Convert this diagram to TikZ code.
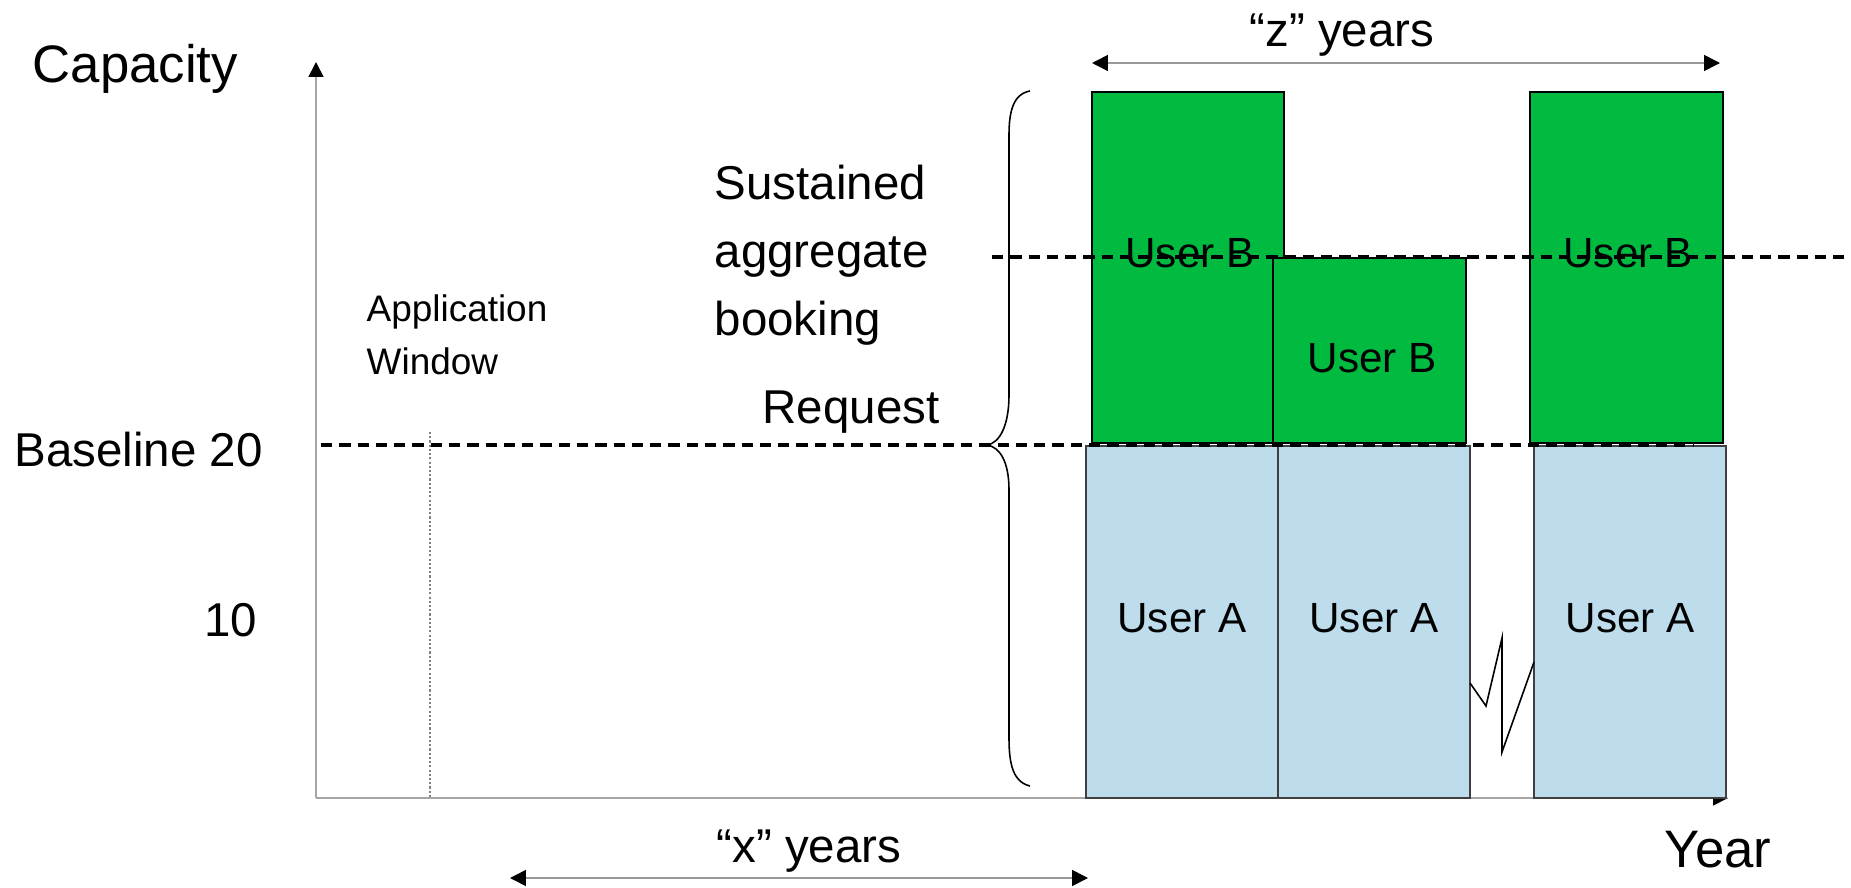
\documentclass[tikz,border=0pt]{standalone}
\usepackage{fontspec}
\setmainfont{Liberation Sans}
\usepackage{tikz}
\usetikzlibrary{arrows,arrows.meta}
\usetikzlibrary{calc}
\definecolor{bookgreen}{RGB}{0,187,64}
\definecolor{bookblue}{RGB}{189,221,237}

\begin{document}
\begin{tikzpicture}[x=0.01cm,y=-0.01cm,
    axis/.style={draw=gray!70,line width=0.45pt,-{Triangle[length=4.2pt,width=4.2pt,color=black]}},
    span/.style={draw=gray!80,line width=0.45pt,{Triangle[length=4.5pt,width=4.5pt,color=black]}-{Triangle[length=4.5pt,width=4.5pt,color=black]}},
    bookdash/.style={dash pattern=on 3.2pt off 2pt,line width=1pt},
    userA/.style={draw=black!75,fill=bookblue,line width=0.45pt},
    userB/.style={draw=black,fill=bookgreen,line width=0.45pt},
    bigtxt/.style={font=\fontsize{15}{18}\selectfont,inner sep=0pt},
    midtxt/.style={font=\fontsize{13.5}{19.3}\selectfont,inner sep=0pt},
    usertxt/.style={font=\fontsize{12}{14}\selectfont,inner sep=0pt},
    appltxt/.style={font=\fontsize{10.5}{15}\selectfont,inner sep=0pt}]
    \useasboundingbox (0,0) rectangle (1851,888);

    \coordinate (origin) at (316,798);
    \coordinate (ytip) at (316,62);
    \coordinate (xtip) at (1728,798);
    \draw[axis] (origin) -- (ytip);
    \draw[axis] (origin) -- (xtip);
    \draw[gray,line width=0.4pt,dash pattern=on 0.6pt off 0.6pt] (430,432) -- (430,798);

    \draw[userA] (1086,446) rectangle (1278,798);
    \draw[userA] (1278,446) rectangle (1470,798);
    \draw[userA] (1534,446) rectangle (1726,798);
    \draw[userB] (1092,92) rectangle (1284,443);
    \draw[userB] (1273,258) rectangle (1466,443);
    \draw[userB] (1530,92) rectangle (1723,443);

    \node[usertxt,anchor=base] (a1) at (1182,632) {User A};
    \node[usertxt,anchor=base] (a2) at (1374,632) {User A};
    \node[usertxt,anchor=base] (a3) at (1630,632) {User A};
    \node[usertxt,anchor=base] (b1) at (1190,268) {User B};
    \node[usertxt,anchor=base] (b2) at (1372,372) {User B};
    \node[usertxt,anchor=base] (b3) at (1628,268) {User B};

    \draw[line width=0.45pt] (1470,683) -- (1486,706) -- (1502,638) -- (1502,752) -- (1534,662);

    \draw[line width=0.45pt] (1030,91) .. controls (1013,94) and (1009,112) .. (1009,135)
        -- (1009,395) .. controls (1009,425) and (1000,443) .. (987,445)
        .. controls (1000,447) and (1009,462) .. (1009,490)
        -- (1009,738) .. controls (1009,764) and (1013,782) .. (1030,786);

    \draw[bookdash] (321,445) -- (1693,445);
    \draw[bookdash] (992,257) -- (1851,257);

    \node[bigtxt,anchor=base west] (cap) at (32,83) {Capacity};
    \node[bigtxt,anchor=base] (year) at (1718,867) {Year};
    \node[midtxt,anchor=base west] (base) at (14,466) {Baseline 20};
    \node[midtxt,anchor=base east] (ten) at (258,636) {10};
    \node[appltxt,anchor=base west,align=left] (appl) at (366,374) {Application\\Window};
    \node[midtxt,anchor=base west,align=left] (sust) at (714,335) {Sustained\\aggregate\\booking};
    \node[midtxt,anchor=base west] (req) at (762,423) {Request};

    \coordinate (zl) at (1092,63);
    \coordinate (zr) at (1720,63);
    \draw[span] (zl) -- (zr);
    \node[midtxt,anchor=base] (zyrs) at (1342,47) {``z'' years};
    \coordinate (xl) at (510,878);
    \coordinate (xr) at (1088,878);
    \draw[span] (xl) -- (xr);
    \node[midtxt,anchor=base] (xyrs) at (809,862) {``x'' years};
\end{tikzpicture}
\end{document}
